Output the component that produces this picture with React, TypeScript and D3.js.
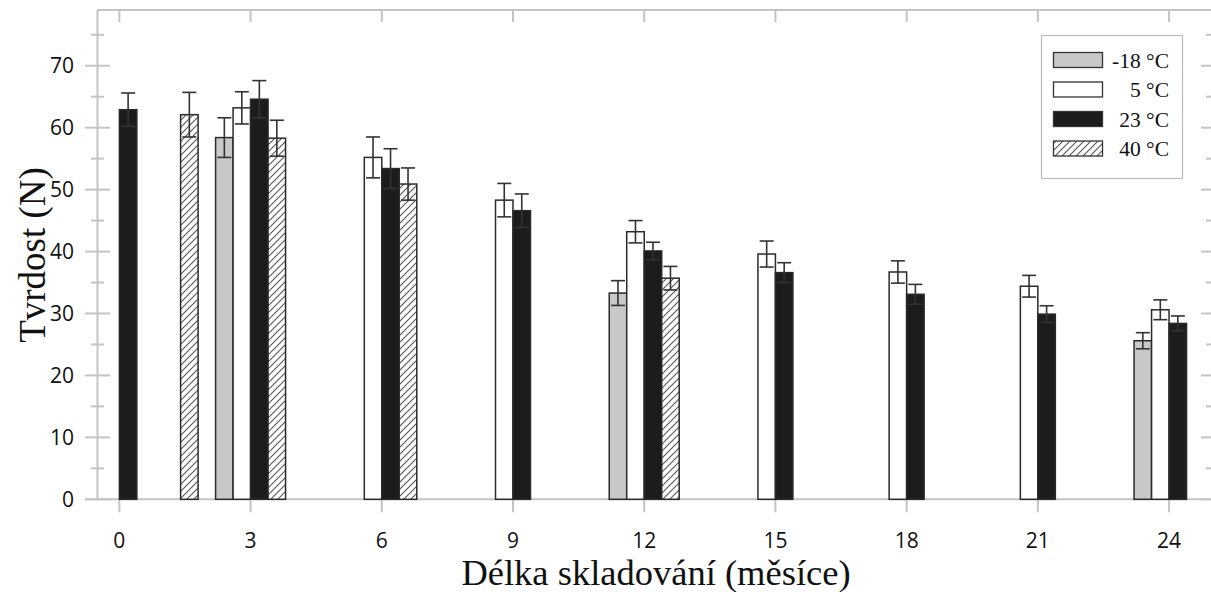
import React from "react";
import * as d3 from "d3";

const W = 1211;
const H = 592;

// Series data: [month, value, error]
const seriesNames = ["-18 °C", "5 °C", "23 °C", "40 °C"];
const minus18: [number, number, number][] = [
  [3, 58.4, 3.2],
  [12, 33.3, 2.0],
  [24, 25.6, 1.3],
];
const plus5: [number, number, number][] = [
  [3, 63.2, 2.6],
  [6, 55.2, 3.3],
  [9, 48.3, 2.7],
  [12, 43.2, 1.8],
  [15, 39.6, 2.1],
  [18, 36.7, 1.8],
  [21, 34.4, 1.75],
  [24, 30.6, 1.6],
];
const plus23: [number, number, number][] = [
  [0, 62.9, 2.7],
  [3, 64.6, 3.0],
  [6, 53.4, 3.2],
  [9, 46.6, 2.7],
  [12, 40.1, 1.4],
  [15, 36.6, 1.6],
  [18, 33.1, 1.6],
  [21, 29.9, 1.35],
  [24, 28.4, 1.2],
];
const plus40: [number, number, number][] = [
  [1, 62.1, 3.6],
  [3, 58.3, 2.9],
  [6, 50.9, 2.6],
  [12, 35.7, 1.9],
];
const xTicks = [0, 3, 6, 9, 12, 15, 18, 21, 24];
const yTicks = [0, 10, 20, 30, 40, 50, 60, 70];
const yMinor = [5, 15, 25, 35, 45, 55, 65, 75];

const allSeries = [minus18, plus5, plus23, plus40];
const fills = ["#c8c8c8", "#ffffff", "#1c1c1c", "url(#hatch)"];
const offsets = [-2, -1, 0, 1]; // in bar widths relative to tick

const axisColor = "#c4c4c4";
const sansFont = "'Open Sans', sans-serif";
const serifFont = "'Liberation Serif', 'Times New Roman', serif";

export default function App() {
  const x = d3.scaleLinear().domain([-0.5, 25]).range([97.5, 1212.8]);
  const y = d3.scaleLinear().domain([0, 79]).range([499.3, 10]);
  const bw = x(0.4) - x(0);
  const left = 97.5;
  const right = 1212;
  const top = y(79);
  const bottom = y(0);

  return (
    <svg
      width={W}
      height={H}
      style={{ position: "absolute", left: 0, top: 0, background: "#fff" }}
    >
      <defs>
        <pattern id="hatch" patternUnits="userSpaceOnUse" width="7" height="7">
          <rect width="7" height="7" fill="#fff" />
          <path
            d="M0,7 L7,0 M-2,2 L2,-2 M5,9 L9,5"
            stroke="#555"
            strokeWidth="1.1"
          />
        </pattern>
      </defs>
      <rect x={0} y={0} width={W} height={H} fill="#fff" />

      {/* frame */}
      <line x1={left} x2={left} y1={top} y2={bottom} stroke={axisColor} strokeWidth={2} />
      <line x1={left} x2={right} y1={top} y2={top} stroke={axisColor} strokeWidth={2} />
      <line x1={85} x2={right} y1={bottom} y2={bottom} stroke={axisColor} strokeWidth={2} />

      {/* y ticks */}
      {yTicks.map((t) => (
        <g key={"yt" + t}>
          <line x1={85} x2={110} y1={y(t)} y2={y(t)} stroke={axisColor} strokeWidth={2} />
          <line x1={1201} x2={right} y1={y(t)} y2={y(t)} stroke={axisColor} strokeWidth={2} />
          <text
            x={74}
            y={y(t)}
            dy="0.36em"
            textAnchor="end"
            fontFamily={sansFont}
            fontSize={21}
            fill="#111"
          >
            {t}
          </text>
        </g>
      ))}
      {yMinor.map((t) => (
        <g key={"ym" + t}>
          <line x1={91} x2={104} y1={y(t)} y2={y(t)} stroke={axisColor} strokeWidth={2} />
          <line x1={1206} x2={right} y1={y(t)} y2={y(t)} stroke={axisColor} strokeWidth={2} />
        </g>
      ))}

      {/* x ticks */}
      {xTicks.map((t) => (
        <g key={"xt" + t}>
          <line x1={x(t)} x2={x(t)} y1={bottom} y2={bottom + 13} stroke={axisColor} strokeWidth={2} />
          <line x1={x(t)} x2={x(t)} y1={top} y2={top + 12} stroke={axisColor} strokeWidth={2} />
          <text
            x={x(t)}
            y={540}
            dy="0.36em"
            textAnchor="middle"
            fontFamily={sansFont}
            fontSize={21}
            fill="#111"
          >
            {t}
          </text>
        </g>
      ))}

      {/* bars */}
      {allSeries.map((s, si) =>
        s.map(([m, v]) => {
          const bx = x(m) + offsets[si] * bw;
          return (
            <rect
              key={`b${si}-${m}`}
              x={bx}
              y={y(v)}
              width={bw}
              height={bottom - y(v)}
              fill={fills[si]}
              stroke="#2a2a2a"
              strokeWidth={1.5}
            />
          );
        })
      )}
      {/* error bars */}
      {allSeries.map((s, si) =>
        s.map(([m, v, e]) => {
          const cx = x(m) + offsets[si] * bw + bw / 2;
          return (
            <g key={`e${si}-${m}`} stroke="#333" strokeWidth={1.6}>
              <line x1={cx} x2={cx} y1={y(v + e)} y2={y(v - e)} />
              <line x1={cx - 7} x2={cx + 7} y1={y(v + e)} y2={y(v + e)} />
              <line x1={cx - 7} x2={cx + 7} y1={y(v - e)} y2={y(v - e)} />
            </g>
          );
        })
      )}

      {/* legend */}
      <rect x={1041.5} y={35.5} width={141} height={143} fill="#fff" stroke="#bbb" strokeWidth={1.2} />
      {seriesNames.map((n, i) => {
        const cy = 60 + i * 29.5;
        return (
          <g key={"lg" + i}>
            <rect
              x={1053.5}
              y={cy - 7.5}
              width={49}
              height={15}
              fill={fills[i]}
              stroke="#333"
              strokeWidth={1.3}
            />
            <text
              x={1169}
              y={cy}
              dy="0.35em"
              textAnchor="end"
              fontFamily={serifFont}
              fontSize={21.5}
              fill="#111"
            >
              {n}
            </text>
          </g>
        );
      })}

      {/* axis titles */}
      <text
        x={656}
        y={585}
        textAnchor="middle"
        fontFamily={serifFont}
        fontSize={36.5}
        fill="#111"
      >
        Délka skladování (měsíce)
      </text>
      <text
        transform={`translate(45,255) rotate(-90)`}
        textAnchor="middle"
        fontFamily={serifFont}
        fontSize={37}
        fill="#111"
      >
        Tvrdost (N)
      </text>
    </svg>
  );
}
